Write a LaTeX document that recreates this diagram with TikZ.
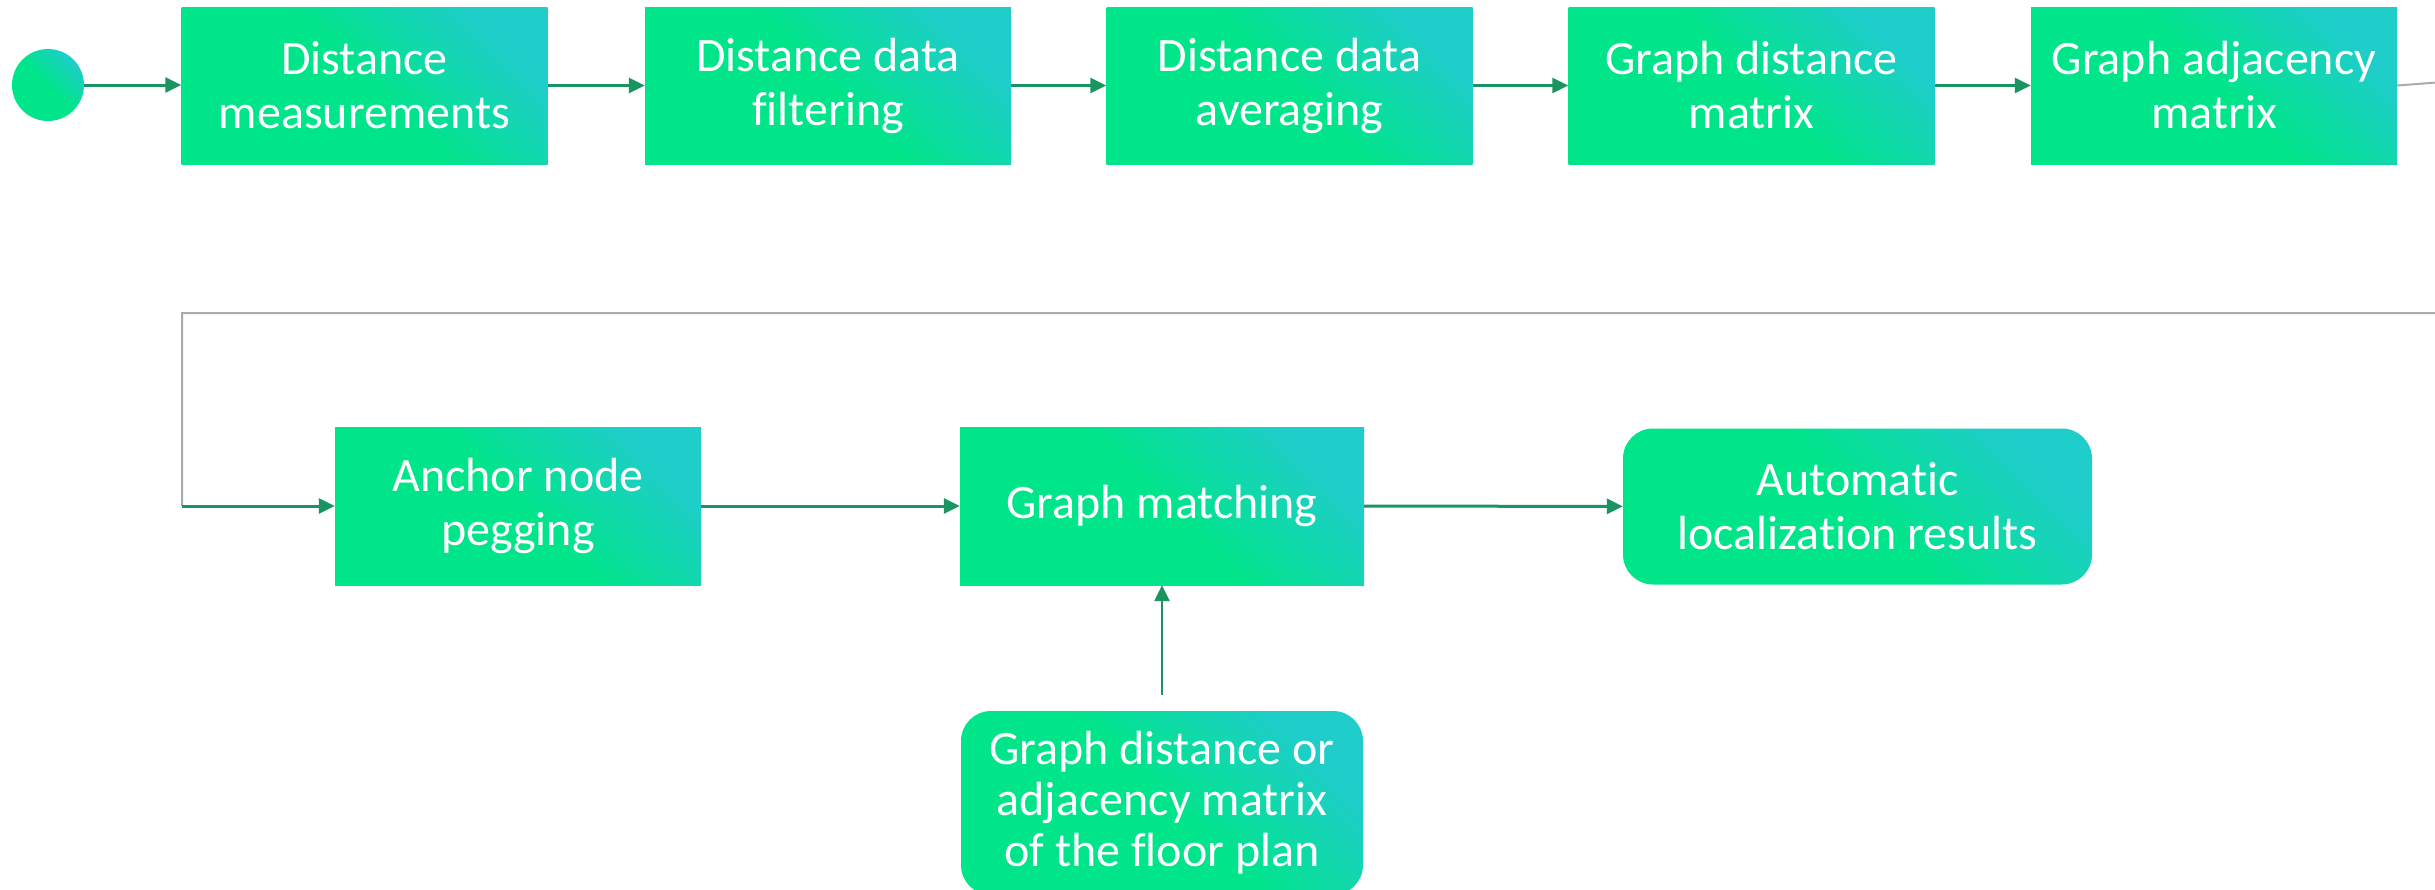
\documentclass[tikz,border=0pt]{standalone}
\usepackage{fontspec}
\setmainfont{Carlito}[RawFeature={-liga;-clig;-calt;-dlig}]
\usetikzlibrary{arrows.meta}
\definecolor{gA}{HTML}{00E589}
\definecolor{gB}{HTML}{1FCDCB}
\definecolor{arr}{HTML}{1A9461}
\definecolor{loopc}{HTML}{ABABAB}
\tikzset{
 box/.style={rectangle, inner sep=0pt, align=center, text=white,
   font=\fontsize{48}{54}\selectfont,
   top color=gB, bottom color=gA, middle color=gA, shading angle=-45},
 rbox/.style={box, rounded corners=30pt},
 conn/.style={draw=arr, line width=3pt, -{Triangle[length=16pt,width=15pt]}},
 toprow/.style={box, minimum width=366pt, minimum height=157pt},
}
\begin{document}
\begin{tikzpicture}[x=1pt,y=-1pt]
\useasboundingbox (0,0) rectangle (2435,889);
\clip (0,0) rectangle (2435,889);
\node[circle, minimum size=72pt, inner sep=0pt, top color=gB, bottom color=gA, middle color=gA, shading angle=-45] (start) at (48,85) {};
\node[toprow] (b1) at (364.5,85.5) {Distance\\measurements};
\node[toprow] (b2) at (828,85.5) {Distance data\\filtering};
\node[toprow] (b3) at (1289.5,85.5) {Distance data\\averaging};
\node[toprow] (b4) at (1751.5,85.5) {Graph distance\\matrix};
\node[toprow] (b5) at (2214,85.5) {Graph adjacency\\matrix};
\node[box, minimum width=366pt, minimum height=158pt] (anchor) at (518,506) {Anchor node\\pegging};
\node[box, minimum width=404pt, minimum height=158pt] (match) at (1162,506) {Graph matching};
\node[rbox, minimum width=469pt, minimum height=156pt] (auto) at (1857.5,506.5) {Automatic\\localization results};
\node[rbox, minimum width=402pt, minimum height=184pt, font=\fontsize{48}{51}\selectfont] (floor) at (1162,803) {Graph distance or\\adjacency matrix\\of the floor plan};
\coordinate (r1) at (2470,80);
\coordinate (r2) at (2470,313);
\coordinate (l1) at (182,313);
\coordinate (l2) at (182,506);
\draw[conn] (start.east) -- (start.east -| b1.west);
\draw[conn] (b1) -- (b2);
\draw[conn] (b2) -- (b3);
\draw[conn] (b3) -- (b4);
\draw[conn] (b4) -- (b5);
\draw[loopc, line width=2pt] (b5.east) -- (r1) -- (r2) -- (l1) -- (l2);
\draw[conn] (l2) -- (anchor.west);
\draw[conn] (anchor) -- (match);
\draw[conn] (match) -- (auto);
\draw[conn, line width=2.5pt, shorten <=16pt] (floor.north) -- (match.south);
\end{tikzpicture}
\end{document}
